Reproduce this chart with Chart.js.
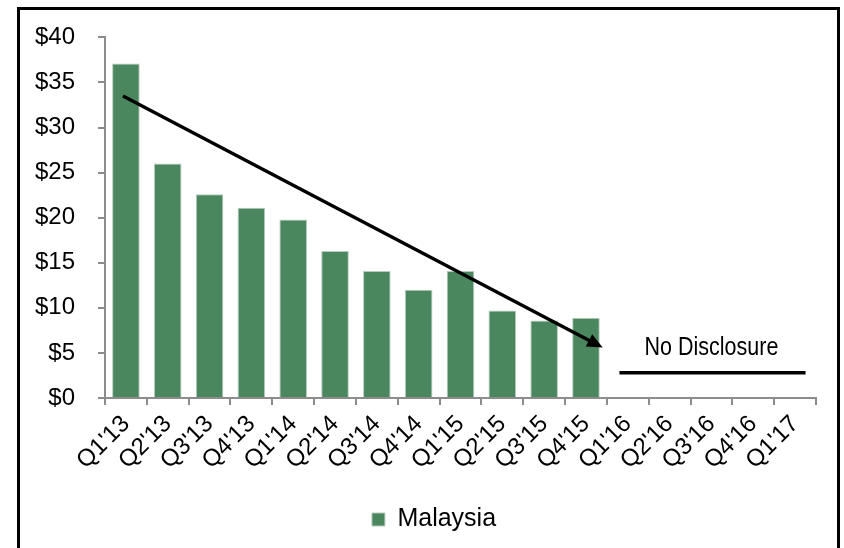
<!DOCTYPE html>
<html lang="en">
<head>
<meta charset="UTF-8">
<title>Malaysia</title>
<script src="https://cdn.jsdelivr.net/npm/chart.js"></script>
<style>
    body { margin: 0; background: #fff; }
    .moldura {
        position: absolute; left: 17px; top: 7px;
        width: 817px; height: 560px;
        border: 3px solid #000;
    }
    #grafico { position: absolute; left: 0; top: 0; }
</style>
</head>
<body>
<div class="moldura"></div>
<canvas id="grafico" width="844" height="548"></canvas>
<script>
    // trimestres
    const trimestres = ["Q1'13", "Q2'13", "Q3'13", "Q4'13", "Q1'14", "Q2'14", "Q3'14", "Q4'14",
        "Q1'15", "Q2'15", "Q3'15", "Q4'15", "Q1'16", "Q2'16", "Q3'16", "Q4'16", "Q1'17"];
    // valores (sem divulgacao a partir de Q1'16)
    const malaysia = [37.1, 26.0, 22.6, 21.1, 19.8, 16.3, 14.1, 12.0, 14.1, 9.7, 8.6, 8.9,
        null, null, null, null, null];
    const ticksY = [0, 5, 10, 15, 20, 25, 30, 35, 40];

    // seta de tendencia: [indice, valor]
    const setaInicio = [-0.07, 33.5];
    const setaFim = [11.4, 5.6];
    // linha "No Disclosure"
    const semDivInicio = [11.8, 2.8];
    const semDivFim = [16.25, 2.8];
    const semDivTexto = 'No Disclosure';
    const semDivTextoPos = [14.0, 5.5];

    const verde = '#4a875e';

    const anotacoes = {
        id: 'anotacoes',
        afterLayout(chart) {
            // legenda um pouco mais a direita
            chart.legend.left += 16;
            chart.legend.right += 16;
        },
        afterDatasetsDraw(chart) {
            const ctx = chart.ctx;
            const x = chart.scales.x, y = chart.scales.y;
            const px = p => [x.getPixelForValue(p[0]), y.getPixelForValue(p[1])];

            ctx.save();
            ctx.strokeStyle = '#000';
            ctx.fillStyle = '#000';
            ctx.lineWidth = 3.4;

            // seta
            const [x1, y1] = px(setaInicio);
            const [x2, y2] = px(setaFim);
            const ang = Math.atan2(y2 - y1, x2 - x1);
            const tam = 17, abre = 0.42;
            ctx.beginPath();
            ctx.moveTo(x1, y1);
            ctx.lineTo(x2 - Math.cos(ang) * tam * 0.8, y2 - Math.sin(ang) * tam * 0.8);
            ctx.stroke();
            ctx.beginPath();
            ctx.moveTo(x2, y2);
            ctx.lineTo(x2 - tam * Math.cos(ang - abre), y2 - tam * Math.sin(ang - abre));
            ctx.lineTo(x2 - tam * Math.cos(ang + abre), y2 - tam * Math.sin(ang + abre));
            ctx.closePath();
            ctx.fill();

            // linha sem divulgacao
            const [a1, b1] = px(semDivInicio);
            const [a2, b2] = px(semDivFim);
            ctx.beginPath();
            ctx.moveTo(a1, b1);
            ctx.lineTo(a2, b2);
            ctx.stroke();

            const [tx, ty] = px(semDivTextoPos);
            ctx.font = '25px "Liberation Sans", Arial';
            ctx.textAlign = 'center';
            ctx.textBaseline = 'middle';
            ctx.translate(tx, ty);
            ctx.scale(0.86, 1);
            ctx.fillText(semDivTexto, 0, 0);
            ctx.restore();
        }
    };

    const fonte = { family: '"Liberation Sans", Arial, sans-serif', size: 24 };

    new Chart(document.getElementById('grafico'), {
        type: 'bar',
        data: {
            labels: trimestres,
            datasets: [{
                label: 'Malaysia',
                data: malaysia,
                backgroundColor: verde,
                borderColor: '#b7cbbd',
                borderWidth: 1,
                barPercentage: 0.66,
                categoryPercentage: 1.0
            }]
        },
        options: {
            responsive: false,
            animation: false,
            layout: { padding: { top: 36, left: 20, right: 28, bottom: 6 } },
            plugins: {
                tooltip: { enabled: false },
                legend: {
                    position: 'bottom',
                    labels: {
                        font: { family: fonte.family, size: 25 }, color: '#000',
                        boxWidth: 13, boxHeight: 13,
                        padding: 8
                    }
                }
            },
            scales: {
                x: {
                    grid: {
                        offset: true, drawOnChartArea: false,
                        color: '#8c8c8c', tickLength: 7, lineWidth: 2
                    },
                    border: { color: '#8c8c8c', width: 2 },
                    ticks: {
                        font: fonte, color: '#000',
                        minRotation: 45, maxRotation: 45,
                        autoSkip: false, padding: 5
                    },
                    afterFit(s) { s.height = 101; }
                },
                y: {
                    min: 0, max: 40,
                    afterBuildTicks(s) { s.ticks = ticksY.map(v => ({ value: v })); },
                    grid: {
                        drawOnChartArea: false,
                        color: '#8c8c8c', tickLength: 7, lineWidth: 2
                    },
                    border: { color: '#8c8c8c', width: 2 },
                    ticks: {
                        font: fonte, color: '#000', padding: 23,
                        callback: v => '$' + v
                    },
                    afterFit(s) { s.width = 85; }
                }
            }
        },
        plugins: [anotacoes]
    });
</script>
</body>
</html>
